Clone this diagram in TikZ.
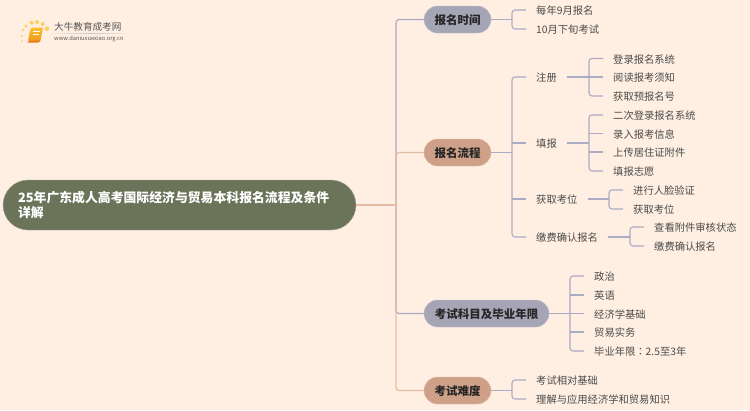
\documentclass[tikz,border=0pt]{standalone}
\usepackage{fontspec}
\setmainfont{Noto Sans CJK SC}
\newfontfamily\colonfont{Noto Sans CJK TC}
\usetikzlibrary{positioning,calc,shapes.misc}
\definecolor{pageBg}{HTML}{FFEFE2}
\definecolor{rootFill}{HTML}{6B7359}
\definecolor{slateFill}{HTML}{A5A5B6}
\definecolor{clayFill}{HTML}{CFA088}
\definecolor{slateLine}{HTML}{ABABC4}
\definecolor{clayLine}{HTML}{E6BBA5}
\definecolor{leafText}{HTML}{4A4A4A}
\definecolor{logoText}{HTML}{555555}
\definecolor{bookFill}{HTML}{F29A1C}
\definecolor{bookTop}{HTML}{FBC02D}
\definecolor{bookEdge}{HTML}{E8791A}
\definecolor{dotFill}{HTML}{FBD060}
\tikzset{
  rootbox/.style={
    rectangle, rounded corners=25pt, fill=rootFill, draw=rootFill!60!white,
    minimum width=353pt, minimum height=50pt,
    align=left, text width=323pt, text=white,
    font=\fontsize{12.85}{15}\selectfont\bfseries, inner sep=0pt
  },
  branch/.style={
    rectangle, rounded corners=13.5pt, minimum height=27pt, inner sep=0pt,
    text height=11pt, text depth=0.2pt,
    font=\fontsize{11.5}{14}\selectfont\bfseries, text=black!85
  },
  slatebox/.style={branch, fill=slateFill, draw=slateFill!70!white},
  claybox/.style={branch, fill=clayFill, draw=clayFill!70!white},
  leaf/.style={
    anchor=west, inner xsep=10pt, inner ysep=2pt, text=leafText,
    text height=9.6pt, text depth=0.2pt,
    font=\fontsize{10.3}{12}\selectfont
  },
  slateflow/.style={draw=slateLine, line width=1.1pt, rounded corners=3pt},
  clayflow/.style={draw=clayLine, line width=1.3pt, rounded corners=3pt},
  rootflow/.style={draw=clayLine, line width=1.7pt},
  logotext/.style={inner sep=0pt, anchor=west, text=logoText}
}

\begin{document}
\begin{tikzpicture}[x=1pt, y=-1pt]
  \useasboundingbox[fill=pageBg] (0,0) rectangle (750,410);

  % --- logo
  \foreach \dotx/\doty/\dotr in {22/41/.8, 21.7/36/1.1, 23/30/1.4, 26/26/1.7, 31.7/22.7/2, 37/22/2, 42.7/24/2, 47/28.7/2.3}
    \fill[dotFill] (\dotx,\doty) circle (\dotr);
  \fill[bookEdge, rounded corners=1pt] (30,30) -- (29,41) -- (27,42.5) -- (39,42.5) -- (41,40) -- cycle;
  \shade[top color=bookTop, bottom color=bookFill, rounded corners=1pt] (31,27.5) -- (43,27.5) -- (40.5,40.5) -- (28,40.5) -- cycle;
  \draw[white, line width=.5pt] (33,31) -- (40,31) (32.5,34) -- (39,34);
  \node[logotext, font=\fontsize{9.6}{11}\selectfont] (logoname) at (54,27) {大牛教育成考网};
  \shade[left color=pageBg, right color=pageBg, middle color=black!22] (48,33) rectangle (132,33.7);
  \node[logotext, font=\fontsize{5.75}{7}\selectfont] (logourl) at (54,38.5) {www.daniuxuexiao.org.cn};

  % --- root
  \node[rootbox] (root) at (179.5,205) {25年广东成人高考国际经济与贸易本科报名流程及条件\\详解};

  % --- branches
  \node[slatebox, minimum width=67pt]  (time)    at (457.5,19.5) {报名时间};
  \node[claybox,  minimum width=67pt]  (flow)    at (457.5,152.5) {报名流程};
  \node[slatebox, minimum width=125pt] (subject) at (486.5,313.5) {考试科目及毕业年限};
  \node[claybox,  minimum width=67pt]  (level)   at (457.5,390.5) {考试难度};

  % --- time leaves
  \node[leaf] (may)  at (526,10)   {每年9月报名};
  \node[leaf] (oct)  at (526,29)   {10月下旬考试};

  % --- flow leaves
  \node[leaf] (reg)  at (526,77)   {注册};
  \node[leaf] (fill) at (526,143)  {填报};
  \node[leaf] (seat) at (526,199)  {获取考位};
  \node[leaf] (pay)  at (526,237)  {缴费确认报名};

  \node[leaf] (reg1) at (603,58.5) {登录报名系统};
  \node[leaf] (reg2) at (603,77)   {阅读报考须知};
  \node[leaf] (reg3) at (603,96)   {获取预报名号};

  \node[leaf] (fill1) at (603,115) {二次登录报名系统};
  \node[leaf] (fill2) at (603,133.5) {录入报考信息};
  \node[leaf] (fill3) at (603,152) {上传居住证附件};
  \node[leaf] (fill4) at (603,171) {填报志愿};

  \node[leaf] (seat1) at (623,190) {进行人脸验证};
  \node[leaf] (seat2) at (623,209) {获取考位};

  \node[leaf] (pay1)  at (644,227) {查看附件审核状态};
  \node[leaf] (pay2)  at (644,246) {缴费确认报名};

  % --- subject leaves
  \node[leaf] (sub1) at (584,276)  {政治};
  \node[leaf] (sub2) at (584,295)  {英语};
  \node[leaf] (sub3) at (584,313.5) {经济学基础};
  \node[leaf] (sub4) at (584,332)  {贸易实务};
  \node[leaf] (sub5) at (584,351)  {毕业年限{\colonfont ：}2.5至3年};

  % --- level leaves
  \node[leaf] (lev1) at (526,380)  {考试相对基础};
  \node[leaf] (lev2) at (526,399)  {理解与应用经济学和贸易知识};

  % --- arrows
  \coordinate (spine) at (396,205);
  \draw[slateflow] (spine) |- (time.west);
  \draw[slateflow] (spine) |- (subject.west);
  \draw[clayflow] (spine) |- (flow.west);
  \draw[clayflow] (spine) |- (level.west);
  \draw[rootflow] (root.east) -- (spine);

  % parent / first leaf / last leaf / leaves between
  \foreach \parentname/\firstleaf/\lastleaf/\midleaves in {
      time/may/oct/{},
      flow/reg/pay/{fill,seat},
      reg/reg1/reg3/{reg2},
      fill/fill1/fill4/{fill2,fill3},
      seat/seat1/seat2/{},
      pay/pay1/pay2/{},
      subject/sub1/sub5/{sub2,sub3,sub4},
      level/lev1/lev2/{}} {
    \coordinate (forkpt) at ([xshift=-14]\firstleaf.west);
    \draw[slateflow] (\firstleaf.west) -| ([xshift=-14]\lastleaf.west) -- (\lastleaf.west);
    \draw[slateflow] (\parentname.east) -- (\parentname.east -| forkpt);
    \foreach \midleaf in \midleaves
      \draw[slateflow] (\midleaf.west) -- (\midleaf.west -| forkpt);
  }
\end{tikzpicture}
\end{document}
